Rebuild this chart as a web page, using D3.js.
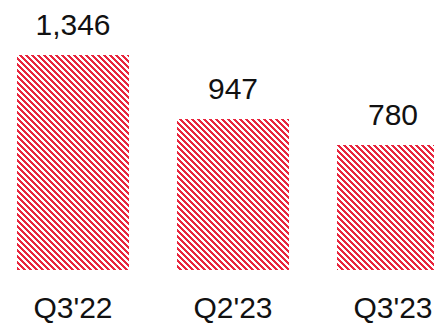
<!DOCTYPE html>
<html>
<head>
<meta charset="utf-8">
<script src="https://cdn.jsdelivr.net/npm/d3@7"></script>
<style>
  html, body { margin: 0; padding: 0; background: #fff; }
  svg { display: block; }
  text { font-family: "Liberation Sans", Arial, sans-serif; fill: #111; }
</style>
</head>
<body>
<svg id="chart" width="434" height="325"></svg>
<script>
const categories = ["Q3'22", "Q2'23", "Q3'23"];
const values = [1346, 947, 780];

const W = 434, H = 325;
const margin = { left: 17, top: 55, bottom: 55 };
const step = 160, barW = 112;
const red = "#e8263e";

const svg = d3.select("#chart");

// pixel-aligned diagonal hatch: each row shifts the red run one pixel right
const P = 6, run = 3;
const defs = svg.append("defs");
const pat = defs.append("pattern")
  .attr("id", "hatch")
  .attr("patternUnits", "userSpaceOnUse")
  .attr("width", P).attr("height", P);
pat.append("rect").attr("width", P).attr("height", P).attr("fill", "#fff");
const cells = [];
for (let r = 0; r < P; r++) {
  for (let k = 0; k < run; k++) cells.push({ r, c: (r + k) % P });
}
pat.selectAll("rect.px")
  .data(cells)
  .join("rect")
  .attr("class", "px")
  .attr("x", d => d.c).attr("y", d => d.r)
  .attr("width", 1).attr("height", 1)
  .attr("fill", red)
  .attr("shape-rendering", "crispEdges");

const x = d3.scaleBand()
  .domain(categories)
  .range([margin.left, margin.left + step * categories.length - (step - barW)])
  .paddingInner((step - barW) / step)
  .paddingOuter(0);

const baseY = H - margin.bottom;
const y = d3.scaleLinear()
  .domain([0, d3.max(values)])
  .range([baseY, margin.top]);

const data = categories.map((c, i) => ({ cat: c, val: values[i] }));
const mid = d => x(d.cat) + x.bandwidth() / 2;

svg.append("g").selectAll("rect")
  .data(data)
  .join("rect")
  .attr("x", d => x(d.cat))
  .attr("y", d => y(d.val))
  .attr("width", x.bandwidth())
  .attr("height", d => baseY - y(d.val))
  .attr("fill", "url(#hatch)")
  .attr("shape-rendering", "crispEdges");

svg.append("g").selectAll("text")
  .data(data)
  .join("text")
  .attr("x", mid)
  .attr("y", d => y(d.val) - 20)
  .attr("text-anchor", "middle")
  .attr("font-size", 30)
  .text(d => d3.format(",")(d.val));

svg.append("g").selectAll("text")
  .data(data)
  .join("text")
  .attr("x", mid)
  .attr("y", H - 7)
  .attr("text-anchor", "middle")
  .attr("font-size", 30)
  .text(d => d.cat);
</script>
</body>
</html>
